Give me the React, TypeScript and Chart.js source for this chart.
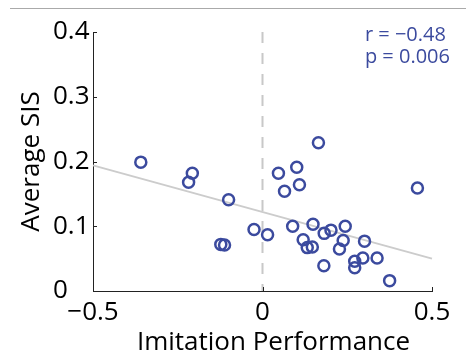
import React, { useEffect, useRef } from 'react';
import { Chart, registerables } from 'chart.js';

Chart.register(...registerables);

// Scatter points: imitation performance (x) vs average SIS (y)
const imitationX = [
  -0.359, -0.207, -0.218, -0.1, -0.123, -0.112, -0.025, 0.015, 0.165, 0.047, 0.101,
  0.065, 0.109, 0.457, 0.089, 0.149, 0.182, 0.202, 0.244, 0.12, 0.132, 0.147,
  0.238, 0.227, 0.301, 0.181, 0.272, 0.272, 0.296, 0.338, 0.375,
];
const averageSIS = [
  0.199, 0.182, 0.168, 0.141, 0.072, 0.071, 0.095, 0.087, 0.229, 0.182, 0.191,
  0.154, 0.164, 0.159, 0.1, 0.103, 0.089, 0.094, 0.1, 0.079, 0.067, 0.068,
  0.078, 0.065, 0.077, 0.039, 0.046, 0.036, 0.051, 0.051, 0.016,
];

// Regression line end points
const fitX = [-0.5, 0.5];
const fitY = [0.194, 0.05];

// Vertical reference line at x = 0
const refX = [0, 0];
const refY = [0.4, 0];

const xTicks = [-0.5, 0, 0.5];
const xTickLabels = ['\u22120.5', '0', '0.5'];
const yTicks = [0, 0.1, 0.2, 0.3, 0.4];
const yTickLabels = ['0', '0.1', '0.2', '0.3', '0.4'];

const xTitle = 'Imitation Performance';
const yTitle = 'Average SIS';
const statsLines = ['r = \u22120.48', 'p = 0.006'];
const statsAnchorX = 0.302;
const statsAnchorY = [0.386, 0.352];

const BLUE = '#3b4a9e';
const FONT = '"Open Sans", "DejaVu Sans", sans-serif';

export default function App() {
  const ref = useRef<HTMLCanvasElement | null>(null);

  useEffect(() => {
    if (!ref.current) return;

    const decor = {
      id: 'decor',
      afterDatasetsDraw(chart: any) {
        const { ctx, chartArea, scales } = chart;
        const xs = scales.x;
        const ys = scales.y;
        ctx.save();
        // inward tick marks
        ctx.strokeStyle = '#222';
        ctx.lineWidth = 1;
        ctx.beginPath();
        for (const v of yTicks) {
          const py = Math.round(ys.getPixelForValue(v)) + 0.5;
          ctx.moveTo(chartArea.left, py);
          ctx.lineTo(chartArea.left + 4, py);
        }
        for (const v of xTicks) {
          const px = Math.round(xs.getPixelForValue(v)) + 0.5;
          ctx.moveTo(px, chartArea.bottom);
          ctx.lineTo(px, chartArea.bottom - 4);
        }
        ctx.stroke();

        // stats text
        ctx.fillStyle = BLUE;
        ctx.font = `20px ${FONT}`;
        ctx.textAlign = 'left';
        ctx.textBaseline = 'alphabetic';
        statsLines.forEach((t, i) => {
          ctx.fillText(t, xs.getPixelForValue(statsAnchorX), ys.getPixelForValue(statsAnchorY[i]));
        });

        // axis titles
        ctx.fillStyle = '#000';
        ctx.font = `26px ${FONT}`;
        ctx.textAlign = 'center';
        ctx.textBaseline = 'alphabetic';
        ctx.fillText(xTitle, (chartArea.left + chartArea.right) / 2 + 11, 350);
        ctx.save();
        ctx.translate(39, (chartArea.top + chartArea.bottom) / 2);
        ctx.rotate(-Math.PI / 2);
        ctx.fillText(yTitle, 0, 0);
        ctx.restore();
        ctx.restore();
      },
    };

    const chart = new Chart(ref.current, {
      type: 'scatter',
      data: {
        datasets: [
          {
            type: 'scatter',
            data: imitationX.map((x, i) => ({ x, y: averageSIS[i] })),
            pointStyle: 'circle',
            pointRadius: 5.5,
            pointBorderWidth: 2.5,
            pointBorderColor: BLUE,
            pointBackgroundColor: 'rgba(0,0,0,0)',
            order: 0,
          },
          {
            type: 'line',
            data: fitX.map((x, i) => ({ x, y: fitY[i] })),
            borderColor: '#cccccc',
            borderWidth: 2,
            pointRadius: 0,
            fill: false,
            order: 1,
          },
          {
            type: 'line',
            data: refX.map((x, i) => ({ x, y: refY[i] })),
            borderColor: '#c8c8c8',
            borderWidth: 2,
            borderDash: [11, 10],
            pointRadius: 0,
            fill: false,
            order: 2,
          },
        ],
      } as any,
      options: {
        responsive: false,
        animation: false,
        clip: false as any,
        layout: { padding: { left: 53, right: 34, top: 32, bottom: 0 } },
        plugins: { legend: { display: false }, tooltip: { enabled: false } },
        scales: {
          x: {
            type: 'linear',
            min: -0.5,
            max: 0.5,
            afterBuildTicks: (s: any) => {
              s.ticks = xTicks.map((v) => ({ value: v }));
            },
            afterFit: (s: any) => {
              s.height = 65;
            },
            grid: { display: false, drawTicks: false },
            border: { display: true, color: '#222', width: 1 },
            ticks: {
              padding: 6,
              color: '#000',
              font: { family: FONT, size: 26 },
              maxRotation: 0,
              autoSkip: false,
              callback: (v: any) => {
                const i = xTicks.indexOf(Number(v));
                return i >= 0 ? xTickLabels[i] : '';
              },
            },
          },
          y: {
            type: 'linear',
            min: 0,
            max: 0.4,
            afterBuildTicks: (s: any) => {
              s.ticks = yTicks.map((v) => ({ value: v }));
            },
            afterFit: (s: any) => {
              s.width = 40;
            },
            grid: { display: false, drawTicks: false },
            border: { display: true, color: '#222', width: 1 },
            ticks: {
              crossAlign: 'far',
              padding: 5,
              color: '#000',
              font: { family: FONT, size: 26 },
              autoSkip: false,
              callback: (v: any) => {
                const i = yTicks.findIndex((t) => Math.abs(t - Number(v)) < 1e-9);
                return i >= 0 ? yTickLabels[i] : '';
              },
            },
          },
        },
      },
      plugins: [decor],
    });
    return () => chart.destroy();
  }, []);

  return (
    <div style={{ position: 'absolute', left: 0, top: 0, width: 466, height: 356, background: '#fff' }}>
      <div style={{ position: 'absolute', left: 10, top: 8, width: 456, height: 1, background: '#aaaaaa' }} />
      <canvas ref={ref} width={466} height={356} style={{ position: 'absolute', left: 0, top: 0, width: 466, height: 356 }} />
    </div>
  );
}
